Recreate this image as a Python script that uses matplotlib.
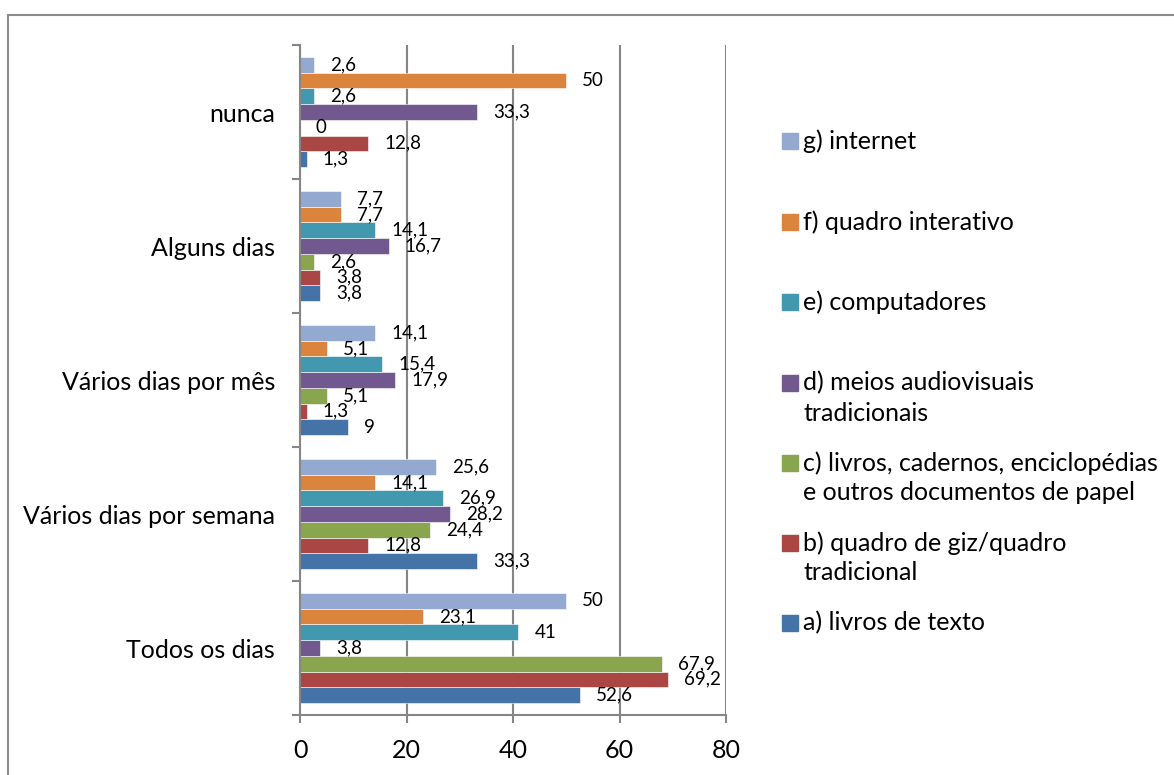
import numpy as np
import matplotlib
matplotlib.use('Agg')
from matplotlib import pyplot as plt
from matplotlib.patches import Rectangle

plt.rcParams['font.family'] = ['Lato', 'DejaVu Sans']

categories = ['Todos os dias', 'Vários dias por semana', 'Vários dias por mês',
              'Alguns dias', 'nunca']
series = ['a) livros de texto',
          'b) quadro de giz/quadro\ntradicional',
          'c) livros, cadernos, enciclopédias\ne outros documentos de papel',
          'd) meios audiovisuais\ntradicionais',
          'e) computadores',
          'f) quadro interativo',
          'g) internet']
# one row per series, columns follow categories
values = [
    [52.6, 33.3, 9, 3.8, 1.3],
    [69.2, 12.8, 1.3, 3.8, 12.8],
    [67.9, 24.4, 5.1, 2.6, 0],
    [3.8, 28.2, 17.9, 16.7, 33.3],
    [41, 26.9, 15.4, 14.1, 2.6],
    [23.1, 14.1, 5.1, 7.7, 50],
    [50, 25.6, 14.1, 7.7, 2.6],
]
colors = ['#4572A7', '#AA4643', '#89A54E', '#71588F', '#4198AF', '#DB843D', '#93A9CF']

W, H = 1174, 775
fig = plt.figure(figsize=(W / 100, H / 100), dpi=100)

def px(x, y):
    return x / W, 1 - y / H

# outer chart border
fig.add_artist(Rectangle(px(7.5, 800), (1200 - 7.5) / W, (800 - 15) / H,
                         transform=fig.transFigure, fill=False,
                         edgecolor='#8c8c8c', linewidth=1.5))

ax = fig.add_axes([300 / W, 1 - 715 / H, 426 / W, 670 / H])
grey = '#868686'

n = len(series)
h = 0.117
y = np.arange(len(categories))
for k, (name, vals, c) in enumerate(zip(series, values, colors)):
    pos = y + (k - (n - 1) / 2) * h
    ax.barh(pos, vals, height=h, color=c, edgecolor='white', linewidth=0.4)
    for yy, v in zip(pos, vals):
        txt = ('%g' % v).replace('.', ',')
        ax.annotate(txt, (v, yy), xytext=(16, 0), textcoords='offset pixels',
                    ha='left', va='center', fontsize=13.5, color='black')

ax.set_xlim(0, 80)
ax.set_ylim(-0.5, len(categories) - 0.5)
ax.set_xticks([0, 20, 40, 60, 80])
ax.xaxis.grid(True, color=grey, linewidth=1.5)
ax.set_axisbelow(True)

ax.set_yticks(y)
ax.set_yticklabels(categories, fontsize=18)
ax.set_yticks(np.arange(-0.5, len(categories)), minor=True)
ax.tick_params(axis='y', which='major', length=0, pad=18)
ax.tick_params(axis='y', which='minor', length=6, width=1.5, color=grey)
ax.tick_params(axis='x', length=6, width=1.5, color=grey, labelsize=18, pad=11)

for s in ['top', 'right']:
    ax.spines[s].set_visible(False)
for s in ['left', 'bottom']:
    ax.spines[s].set_color(grey)
    ax.spines[s].set_linewidth(1.5)

# legend, newest series on top
legend_y = [623, 543, 463, 383, 302, 222, 141]
for name, c, ly in zip(series, colors, legend_y):
    fig.add_artist(Rectangle(px(782, ly + 8), 16 / W, 16 / H,
                             transform=fig.transFigure, color=c))
    for j, line in enumerate(name.split('\n')):
        fig.text(*px(803, ly + 30 * j), line, fontsize=18, ha='left', va='center')

fig.savefig('out.png', dpi=100)
